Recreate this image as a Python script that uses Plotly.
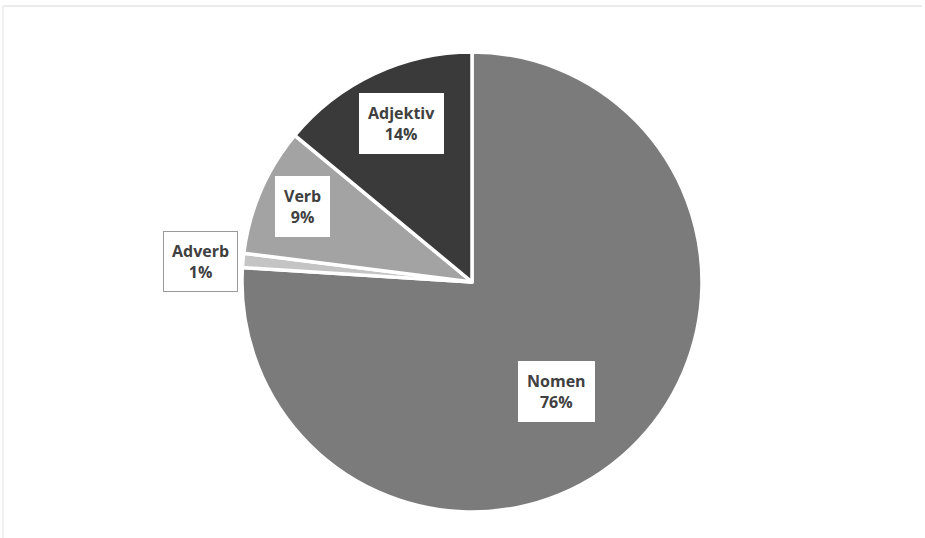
import plotly.graph_objects as go

# Part-of-speech distribution
categories = ["Nomen", "Adverb", "Verb", "Adjektiv"]
shares = [76, 1, 9, 14]

slice_colors = ["#7b7b7b", "#c4c4c4", "#a3a3a3", "#3a3a3a"]

W, H = 925, 538

# Label box centres in pixels
label_px = {
    "Nomen": (556, 391),
    "Adverb": (200, 261),
    "Verb": (302, 207),
    "Adjektiv": (401, 123),
}

cx, cy, r = 472, 282, 230

fig = go.Figure(
    go.Pie(
        labels=categories,
        values=shares,
        sort=False,
        direction="clockwise",
        rotation=0,
        textinfo="none",
        hoverinfo="label+percent",
        marker=dict(colors=slice_colors, line=dict(color="white", width=3.5)),
        domain=dict(x=[(cx - r) / W, (cx + r) / W], y=[1 - (cy + r) / H, 1 - (cy - r) / H]),
        showlegend=False,
    )
)

total = sum(shares)
for name, val in zip(categories, shares):
    px, py = label_px[name]
    fig.add_annotation(
        x=px / W, y=1 - py / H, xref="paper", yref="paper",
        text=f"<b>{name}<br>{round(100 * val / total)}%</b>",
        showarrow=False,
        font=dict(family="Open Sans, Lato, sans-serif", size=16, color="#404040"),
        bgcolor="white",
        bordercolor="#9a9a9a" if name == "Adverb" else "white",
        borderwidth=1,
        borderpad=8,
        xanchor="center", yanchor="middle",
    )

# faint chart frame
fig.add_shape(type="line", xref="paper", yref="paper",
              x0=3 / W, x1=922 / W, y0=1 - 6 / H, y1=1 - 6 / H,
              line=dict(color="#d8d8d8", width=1))
fig.add_shape(type="line", xref="paper", yref="paper",
              x0=3 / W, x1=3 / W, y0=1 - 6 / H, y1=0,
              line=dict(color="#e2e2e2", width=1))

fig.update_layout(
    width=W, height=H,
    margin=dict(l=0, r=0, t=0, b=0),
    paper_bgcolor="white",
    plot_bgcolor="white",
)

fig.write_html("out.html")
